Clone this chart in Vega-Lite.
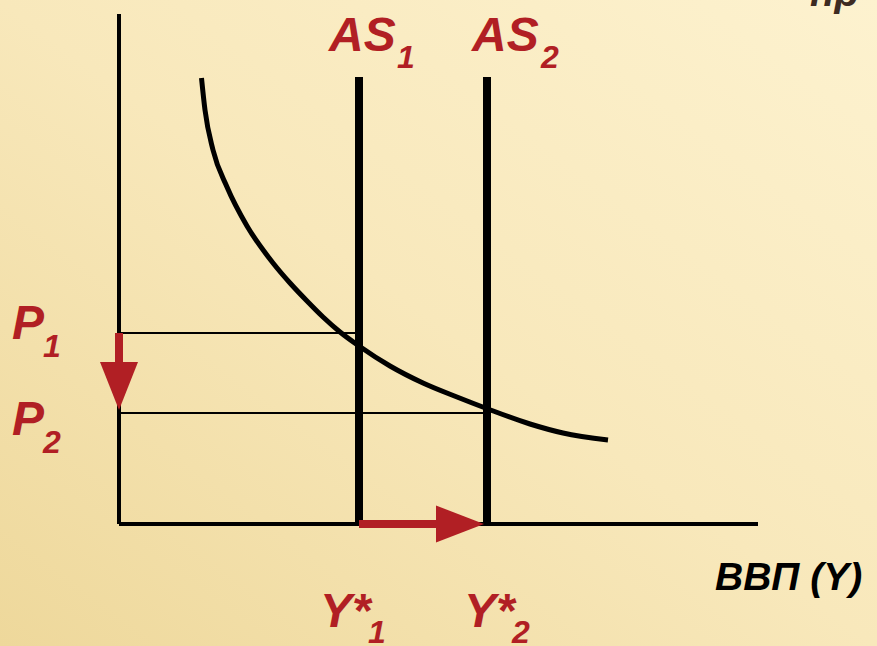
{
  "$schema": "https://vega.github.io/schema/vega-lite/v6.json",
  "width": 877,
  "height": 646,
  "autosize": "none",
  "padding": 0,
  "background": "#f7e7b6",
  "view": {
    "stroke": null,
    "fill": {
      "gradient": "linear",
      "x1": 1, "y1": 0, "x2": 0, "y2": 1,
      "stops": [
        {"offset": 0, "color": "#fdf2cf"},
        {"offset": 0.5, "color": "#f8e8bb"},
        {"offset": 1, "color": "#eed89b"}
      ]
    }
  },
  "encoding": {
    "x": {"field": "x", "type": "quantitative", "scale": {"domain": [-11.9, 75.8], "nice": false, "zero": false}, "axis": null},
    "y": {"field": "y", "type": "quantitative", "scale": {"domain": [-12.2, 52.4], "nice": false, "zero": false}, "axis": null}
  },
  "layer": [
    {
      "data": {"values": [
        {"name": "price axis", "x": 0, "y": 0, "x2": 0, "y2": 51.0},
        {"name": "output axis", "x": 0, "y": 0, "x2": 63.9, "y2": 0}
      ]},
      "mark": {"type": "rule", "color": "#000000", "strokeWidth": 4},
      "encoding": {"x2": {"field": "x2"}, "y2": {"field": "y2"}}
    },
    {
      "data": {"values": [
        {"name": "P1", "x": 0, "y": 19.1, "x2": 24.0, "y2": 19.1},
        {"name": "P2", "x": 0, "y": 11.1, "x2": 36.8, "y2": 11.1}
      ]},
      "mark": {"type": "rule", "color": "#000000", "strokeWidth": 2},
      "encoding": {"x2": {"field": "x2"}, "y2": {"field": "y2"}}
    },
    {
      "data": {"values": [
        {"name": "AS1", "x": 24.0, "y": 0, "x2": 24.0, "y2": 44.7},
        {"name": "AS2", "x": 36.8, "y": 0, "x2": 36.8, "y2": 44.7}
      ]},
      "mark": {"type": "rule", "color": "#000000", "strokeWidth": 8},
      "encoding": {"x2": {"field": "x2"}, "y2": {"field": "y2"}}
    },
    {
      "data": {"values": [
        {"x": 8.25, "y": 44.6}, {"x": 8.6, "y": 41.4}, {"x": 9.4, "y": 37.4},
        {"x": 10.8, "y": 33.7}, {"x": 12.8, "y": 29.8}, {"x": 15.4, "y": 26.1},
        {"x": 17.1, "y": 24.1}, {"x": 18.8, "y": 22.3}, {"x": 20.4, "y": 20.7},
        {"x": 22.1, "y": 19.2}, {"x": 24.0, "y": 17.8}, {"x": 27.1, "y": 15.8},
        {"x": 30.4, "y": 14.1}, {"x": 33.8, "y": 12.7}, {"x": 36.9, "y": 11.5},
        {"x": 41.1, "y": 10.0}, {"x": 44.4, "y": 9.1}, {"x": 48.9, "y": 8.4}
      ]},
      "mark": {"type": "line", "color": "#000000", "strokeWidth": 5, "interpolate": "monotone", "strokeCap": "butt"},
      "encoding": {"order": {"field": "x", "type": "quantitative"}}
    },
    {
      "data": {"values": [
        {"name": "price fall", "x": 0, "y": 19.1, "x2": 0, "y2": 16.0},
        {"name": "output rise", "x": 24.0, "y": 0, "x2": 31.9, "y2": 0}
      ]},
      "mark": {"type": "rule", "color": "#b11f24", "strokeWidth": 8},
      "encoding": {"x2": {"field": "x2"}, "y2": {"field": "y2"}}
    },
    {
      "data": {"values": [{"name": "price fall head", "x": 0, "y": 13.8}]},
      "mark": {"type": "point", "filled": true, "color": "#b11f24", "opacity": 1, "size": 1444, "shape": "M-1,-1.263L1,-1.263L0,1.263Z"}
    },
    {
      "data": {"values": [{"name": "output rise head", "x": 34.1, "y": 0}]},
      "mark": {"type": "point", "filled": true, "color": "#b11f24", "opacity": 1, "size": 1369, "shape": "M-1.297,-1L1.297,0L-1.297,1Z"}
    },
    {
      "data": {"values": [
        {"label": "AS", "x": 21.0, "y": 47.3},
        {"label": "AS", "x": 35.3, "y": 47.3},
        {"label": "P", "x": -10.7, "y": 18.5},
        {"label": "P", "x": -10.7, "y": 8.9},
        {"label": "Y*", "x": 20.1, "y": -10.3},
        {"label": "Y*", "x": 34.5, "y": -10.3}
      ]},
      "mark": {"type": "text", "align": "left", "baseline": "alphabetic", "font": "Liberation Sans", "fontWeight": "bold", "fontStyle": "italic", "fontSize": 48, "color": "#b11f24"},
      "encoding": {"text": {"field": "label"}}
    },
    {
      "data": {"values": [
        {"label": "1", "x": 27.8, "y": 45.6},
        {"label": "2", "x": 42.2, "y": 45.6},
        {"label": "1", "x": -7.6, "y": 16.7},
        {"label": "2", "x": -7.6, "y": 7.1},
        {"label": "1", "x": 24.9, "y": -11.9},
        {"label": "2", "x": 39.3, "y": -11.9}
      ]},
      "mark": {"type": "text", "align": "left", "baseline": "alphabetic", "font": "Liberation Sans", "fontWeight": "bold", "fontStyle": "italic", "fontSize": 32, "color": "#b11f24"},
      "encoding": {"text": {"field": "label"}}
    },
    {
      "data": {"values": [{"label": "ВВП (Y)", "x": 59.6, "y": -6.6}]},
      "mark": {"type": "text", "align": "left", "baseline": "alphabetic", "font": "Liberation Sans", "fontWeight": "bold", "fontStyle": "italic", "fontSize": 39, "color": "#000000"},
      "encoding": {"text": {"field": "label"}}
    },
    {
      "data": {"values": [{"label": "пр", "x": 69.1, "y": 51.8}]},
      "mark": {"type": "text", "align": "left", "baseline": "alphabetic", "font": "Liberation Sans", "fontWeight": "bold", "fontStyle": "italic", "fontSize": 40, "color": "#3d2b22"},
      "encoding": {"text": {"field": "label"}}
    }
  ]
}
